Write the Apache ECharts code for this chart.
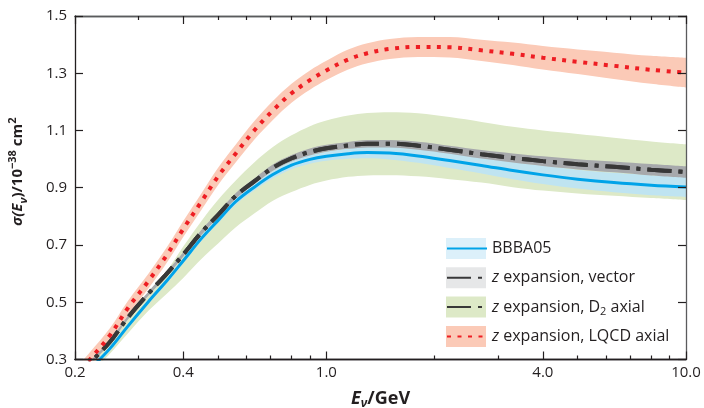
<!DOCTYPE html>
<html>
<head>
<meta charset="utf-8">
<script src="https://cdn.jsdelivr.net/npm/echarts@6/dist/echarts.min.js"></script>
<style>
html, body { margin: 0; padding: 0; background: #fff; }
#main { width: 704px; height: 408px; }
</style>
</head>
<body>
<div id="main"></div>
<script>
// neutrino energy grid (GeV)
var energy = [0.2, 0.22, 0.25, 0.28, 0.32, 0.36, 0.4, 0.45, 0.5, 0.56, 0.63, 0.71, 0.8, 0.9, 1.0,
              1.15, 1.3, 1.5, 1.8, 2.2, 2.7, 3.3, 4.0, 5.0, 6.3, 8.0, 10];

// BBBA05
var bbbaMid = [0.205, 0.265, 0.338, 0.415, 0.502, 0.575, 0.645, 0.724, 0.786, 0.852, 0.902, 0.946, 0.979, 0.999, 1.01,
               1.019, 1.023, 1.021, 1.011, 0.995, 0.978, 0.96, 0.945, 0.93, 0.918, 0.909, 0.903];
var bbbaLo = [0.197, 0.257, 0.33, 0.407, 0.494, 0.566, 0.636, 0.714, 0.776, 0.841, 0.89, 0.933, 0.965, 0.984, 0.994,
              1.001, 1.003, 0.999, 0.987, 0.969, 0.95, 0.93, 0.913, 0.897, 0.884, 0.874, 0.868];
var bbbaHi = [0.213, 0.273, 0.346, 0.423, 0.51, 0.584, 0.654, 0.734, 0.796, 0.863, 0.914, 0.959, 0.993, 1.014, 1.026,
              1.037, 1.043, 1.043, 1.035, 1.021, 1.006, 0.99, 0.977, 0.963, 0.952, 0.944, 0.938];

// z expansion, vector
var vecMid = [0.225, 0.287, 0.361, 0.445, 0.53, 0.60, 0.667, 0.745, 0.805, 0.872, 0.922, 0.97, 1.003, 1.025, 1.038,
              1.048, 1.054, 1.054, 1.047, 1.033, 1.017, 1.004, 0.993, 0.982, 0.973, 0.963, 0.955];
var vecLo = [0.219, 0.281, 0.355, 0.438, 0.523, 0.592, 0.659, 0.736, 0.796, 0.862, 0.912, 0.959, 0.992, 1.013, 1.026,
             1.036, 1.041, 1.041, 1.033, 1.019, 1.002, 0.988, 0.976, 0.964, 0.954, 0.943, 0.935];
var vecHi = [0.231, 0.293, 0.367, 0.452, 0.537, 0.608, 0.675, 0.754, 0.814, 0.882, 0.932, 0.981, 1.014, 1.037, 1.05,
             1.06, 1.067, 1.067, 1.061, 1.047, 1.032, 1.02, 1.01, 1.0, 0.992, 0.983, 0.975];

// z expansion, D2 axial
var d2Mid = [0.225, 0.287, 0.361, 0.445, 0.53, 0.60, 0.667, 0.745, 0.805, 0.872, 0.922, 0.97, 1.003, 1.025, 1.038,
             1.048, 1.054, 1.054, 1.047, 1.033, 1.017, 1.004, 0.993, 0.982, 0.973, 0.963, 0.955];
var d2Lo = [0.19, 0.25, 0.32, 0.39, 0.47, 0.53, 0.585, 0.652, 0.705, 0.762, 0.81, 0.855, 0.885, 0.91, 0.925,
            0.938, 0.943, 0.944, 0.94, 0.93, 0.918, 0.902, 0.89, 0.88, 0.872, 0.864, 0.857];
var d2Hi = [0.235, 0.293, 0.366, 0.448, 0.535, 0.61, 0.695, 0.785, 0.858, 0.925, 0.988, 1.042, 1.083, 1.115, 1.135,
            1.152, 1.161, 1.164, 1.16, 1.147, 1.13, 1.113, 1.10, 1.088, 1.075, 1.062, 1.052];

// z expansion, LQCD axial
var lqcdMid = [0.238, 0.30, 0.384, 0.478, 0.574, 0.665, 0.756, 0.853, 0.94, 1.02, 1.10, 1.17, 1.23, 1.276, 1.31,
               1.348, 1.370, 1.385, 1.392, 1.391, 1.380, 1.368, 1.354, 1.340, 1.326, 1.312, 1.302];
var lqcdLo = [0.213, 0.275, 0.359, 0.453, 0.548, 0.638, 0.728, 0.824, 0.91, 0.989, 1.068, 1.137, 1.197, 1.242, 1.276,
              1.313, 1.335, 1.35, 1.357, 1.355, 1.343, 1.329, 1.313, 1.297, 1.28, 1.263, 1.25];
var lqcdHi = [0.263, 0.325, 0.409, 0.503, 0.600, 0.692, 0.784, 0.882, 0.97, 1.051, 1.132, 1.203, 1.263, 1.31, 1.344,
              1.383, 1.405, 1.42, 1.427, 1.427, 1.417, 1.407, 1.395, 1.383, 1.372, 1.361, 1.354];

var xMajorTicks = [0.2, 0.4, 1, 4, 10];
var xMinorTicks = [0.3, 0.5, 0.6, 0.7, 0.8, 0.9, 2, 3, 5, 6, 7, 8, 9];

var FONT = '"Open Sans", sans-serif';
var INK = '#231f20';
var FRAME = '#5a5b5d';
var SMOOTH = 0.35;
var Y_MIN = 0.3, Y_MAX = 1.5;

// rows are [sigma, E]; encode maps them so the stack runs on sigma
function rows(ys) {
    return energy.map(function (e, i) { return [ys[i], e]; });
}
var ENC = { x: 1, y: 0 };

// filled band: invisible lower line + stacked width with area
function band(name, lo, hi, color) {
    return [{
        type: 'line', name: name + ' base', stack: name, data: rows(lo), encode: ENC,
        symbol: 'none', smooth: SMOOTH, silent: true,
        lineStyle: { opacity: 0 }
    }, {
        type: 'line', name: name, stack: name,
        data: energy.map(function (e, i) { return [hi[i] - lo[i], e]; }), encode: ENC,
        symbol: 'none', smooth: SMOOTH, silent: true,
        lineStyle: { opacity: 0 },
        areaStyle: { color: color, opacity: 1 }
    }];
}

function curve(name, ys, color, width, dash) {
    return {
        type: 'line', name: name, data: rows(ys), encode: ENC, symbol: 'none', smooth: SMOOTH, silent: true,
        itemStyle: { color: color },
        lineStyle: { color: color, width: width, type: dash || 'solid', cap: 'butt' }
    };
}

var series = [].concat(
    band('D2 band', d2Lo, d2Hi, '#dde9c7'),
    band('LQCD band', lqcdLo, lqcdHi, '#fbcab7'),
    band('BBBA05 band', bbbaLo, bbbaHi, '#bfe4f1'),
    band('vector band', vecLo, vecHi, '#a7a9ac'),
    [
        curve('BBBA05', bbbaMid, '#00a3e8', 3),
        curve('z expansion, D2 axial', d2Mid, '#383838', 4, [24, 7, 4, 7]),
        curve('z expansion, vector', vecMid, '#383838', 4, [24, 7, 4, 7]),
        curve('z expansion, LQCD axial', lqcdMid, '#ee1d23', 4, [4, 6.5])
    ]
);

// log x axis; extra copies only carry the inward tick marks
function xAxisCfg(pos, ticks, len, lineColor) {
    return {
        type: 'log', logBase: 10, min: 0.2, max: 10, position: pos, z: 5,
        axisLine: { show: true, onZero: false, lineStyle: { color: lineColor, width: 1.3 } },
        axisTick: { show: true, inside: true, length: len, customValues: ticks, lineStyle: { color: INK, width: 1.2 } },
        axisLabel: { show: false },
        minorTick: { show: false },
        splitLine: { show: false }
    };
}

var xAxes = [
    xAxisCfg('bottom', xMajorTicks, 8, INK),
    xAxisCfg('bottom', xMinorTicks, 4, INK),
    xAxisCfg('top', xMajorTicks, 8, FRAME),
    xAxisCfg('top', xMinorTicks, 4, FRAME)
];
xAxes[0].axisLabel = {
    show: true, customValues: xMajorTicks, margin: 6,
    color: INK, fontFamily: FONT, fontSize: 15,
    formatter: function (v) { return Number(v).toFixed(1); }
};
xAxes[0].name = '{bi|E}{bsub|ν}{b|/GeV}';
xAxes[0].nameLocation = 'middle';
xAxes[0].nameGap = 28;
xAxes[0].nameTextStyle = {
    color: INK, fontFamily: FONT, fontSize: 18, fontWeight: 'bold',
    rich: {
        bi: { fontStyle: 'italic', fontWeight: 'bold', fontSize: 18, lineHeight: 22 },
        bsub: { fontStyle: 'italic', fontWeight: 'bold', fontSize: 12, lineHeight: 12, verticalAlign: 'bottom' },
        b: { fontWeight: 'bold', fontSize: 18, lineHeight: 22 }
    }
};

var option = {
    animation: false,
    backgroundColor: '#fff',
    grid: { left: 75, right: 18, top: 16, bottom: 48.5, containLabel: false, outerBoundsMode: 'none' },
    xAxis: xAxes,
    yAxis: [{
        type: 'value', min: Y_MIN, max: Y_MAX, interval: 0.2, position: 'left', z: 5,
        axisLine: { show: true, onZero: false, lineStyle: { color: INK, width: 1.3 } },
        axisTick: { show: true, inside: true, length: 8, lineStyle: { color: INK, width: 1.2 } },
        axisLabel: {
            margin: 8, color: INK, fontFamily: FONT, fontSize: 15,
            formatter: function (v) { return v.toFixed(1); }
        },
        splitLine: { show: false },
        // leading em spaces push the title up along the axis
        name: '{pad|\u2003\u2003}{bi|σ(E}{bsub|ν}{b|)/10}{bsup|−38}{b| cm}{bsup|2}',
        nameLocation: 'middle',
        nameGap: 46,
        nameTextStyle: {
            color: INK, fontFamily: FONT, fontSize: 15, fontWeight: 'bold',
            rich: {
                pad: { fontSize: 16, lineHeight: 22 },
                bi: { fontStyle: 'italic', fontWeight: 'bold', fontSize: 15, lineHeight: 22 },
                bsub: { fontStyle: 'italic', fontWeight: 'bold', fontSize: 11, lineHeight: 11, verticalAlign: 'bottom' },
                bsup: { fontWeight: 'bold', fontSize: 11, lineHeight: 11, verticalAlign: 'top' },
                b: { fontWeight: 'bold', fontSize: 15, lineHeight: 22 }
            }
        }
    }, {
        type: 'value', min: Y_MIN, max: Y_MAX, interval: 0.2, position: 'right', z: 5,
        axisLine: { show: true, onZero: false, lineStyle: { color: FRAME, width: 1.3 } },
        axisTick: { show: true, inside: true, length: 8, lineStyle: { color: INK, width: 1.2 } },
        axisLabel: { show: false },
        splitLine: { show: false }
    }],
    legend: [{
        // band swatches behind the line keys
        orient: 'vertical', left: 441, top: 233, z: 3,
        itemWidth: 40, itemHeight: 21, itemGap: 8.3,
        selectedMode: false,
        formatter: function () { return ''; },
        data: [
            { name: 'BBBA05 band', icon: 'rect', itemStyle: { color: '#dcf0fa' } },
            { name: 'vector band', icon: 'rect', itemStyle: { color: '#e6e7e8' } },
            { name: 'D2 band', icon: 'rect', itemStyle: { color: '#dde9c7' } },
            { name: 'LQCD band', icon: 'rect', itemStyle: { color: '#fbcab7' } }
        ]
    }, {
        orient: 'vertical', left: 441, top: 233, z: 5,
        itemWidth: 40, itemHeight: 21, itemGap: 8.3,
        selectedMode: false,
        itemStyle: { color: 'rgba(0,0,0,0)', borderColor: 'rgba(0,0,0,0)', borderWidth: 0 },
        data: ['BBBA05', 'z expansion, vector', 'z expansion, D2 axial', 'z expansion, LQCD axial'],
        formatter: function (name) {
            if (name === 'z expansion, D2 axial') return '{i|z} expansion, D{sub|2} axial';
            if (name.indexOf('z ') === 0) return '{i|z}' + name.slice(1);
            return name;
        },
        textStyle: {
            color: INK, fontFamily: FONT, fontSize: 16, lineHeight: 21,
            rich: {
                i: { fontStyle: 'italic', fontSize: 16, lineHeight: 21 },
                sub: { fontSize: 11, lineHeight: 11, verticalAlign: 'bottom' }
            }
        }
    }],
    series: series
};

var chart = echarts.init(document.getElementById('main'));
chart.setOption(option);
</script>
</body>
</html>
